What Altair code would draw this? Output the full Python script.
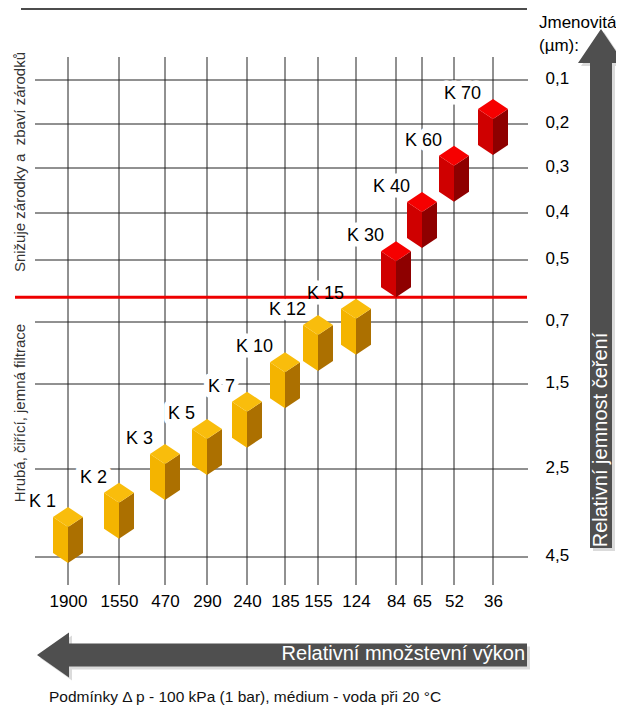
import altair as alt
import pandas as pd

FONT = "Liberation Sans"

# ---- data ----
flow_labels = [1900, 1550, 470, 290, 240, 185, 155, 124, 84, 65, 52, 36]
rating_ticks = [0.1, 0.2, 0.3, 0.4, 0.5, 0.7, 1.5, 2.5, 4.5]
filter_names = ["K 1", "K 2", "K 3", "K 5", "K 7", "K 10", "K 12", "K 15",
                "K 30", "K 40", "K 60", "K 70"]
filter_flow = [1900, 1550, 470, 290, 240, 185, 155, 124, 84, 65, 52, 36]
filter_rating = [4.0, 3.45, 2.57, 2.24, 1.92, 1.45, 0.97, 0.76,
                 0.53, 0.415, 0.313, 0.207]
filter_group = ["filtrace"] * 8 + ["zarodky"] * 4
threshold = [0.62]

# ---- layout (scale ranges of the hand-drawn, uneven grid) ----
W, H = 493, 528
X_RANGE = [33, 84, 130, 172, 212, 250, 283, 321, 361, 387, 419, 458]
Y_RANGE = [23, 67, 111, 156, 203, 265, 327, 412, 500]

df = pd.DataFrame({"name": filter_names, "flow": filter_flow,
                   "rating": filter_rating, "grp": filter_group})

xscale = alt.Scale(domain=flow_labels, range=X_RANGE, nice=False, zero=False)
yscale = alt.Scale(domain=rating_ticks, range=Y_RANGE, nice=False, zero=False)

xaxis = alt.Axis(values=flow_labels, format="d", orient="bottom", domain=False,
                 ticks=False, tickSize=0, labelPadding=8, labelFontSize=17,
                 labelFont=FONT, labelColor="#000", grid=False, labelFlush=False,
                 labelOverlap=False, title=None, labelAngle=0)
yaxis = alt.Axis(values=rating_ticks, orient="right", domain=False, ticks=False,
                 tickSize=0, labelPadding=17, labelAlign="left",
                 labelBaseline="middle", labelOffset=-2, labelFontSize=17,
                 labelFont=FONT, labelColor="#000",
                 labelExpr="replace(format(datum.value, '.1f'), '.', ',')",
                 grid=False, labelFlush=False, labelOverlap=False, title=None)

X = alt.X("flow:Q", scale=xscale, axis=xaxis)
Y = alt.Y("rating:Q", scale=yscale, axis=yaxis)

# grid drawn as rules through the same scales
vgrid = alt.Chart(pd.DataFrame({"flow": flow_labels})).mark_rule(
    color="#222", strokeWidth=1).encode(x=X, y=alt.value(0), y2=alt.value(H))
hgrid = alt.Chart(pd.DataFrame({"rating": rating_ticks})).mark_rule(
    color="#222", strokeWidth=1).encode(y=Y, x=alt.value(0), x2=alt.value(W))

TOP = "M0,-28L15,-18L0,-8L-15,-18Z"
LEFT = "M-15,-18L0,-8L0,28L-15,18Z"
RIGHT = "M0,-8L15,-18L15,18L0,28Z"


def face(path, red, yellow):
    return alt.Chart(df).mark_point(filled=True, shape=path, size=4, opacity=1,
                                    strokeWidth=0).encode(
        x=X, y=Y,
        fill=alt.condition(alt.datum.grp == "zarodky", alt.value(red), alt.value(yellow)),
    )


cube_top = face(TOP, "#f60000", "#f9bd0c")
cube_left = face(LEFT, "#cf0000", "#f4b400")
cube_right = face(RIGHT, "#8e0000", "#ac7000")

label_halo = alt.Chart(df).mark_text(align="right", baseline="middle", dx=-12, dy=-33,
                                     fontSize=18, font=FONT, color="#fff",
                                     stroke="#fff", strokeWidth=11,
                                     strokeJoin="round").encode(
    x=X, y=Y, text="name:N")
labels = alt.Chart(df).mark_text(align="right", baseline="middle", dx=-12, dy=-33,
                                 fontSize=18, font=FONT, color="#000").encode(
    x=X, y=Y, text="name:N")

red_line = alt.Chart(pd.DataFrame({"rating": threshold})).mark_rule(
    color="#ee0000", strokeWidth=3).encode(
    y=Y, x=alt.value(-20), x2=alt.value(492))

one = pd.DataFrame({"a": [0]})

top_line = alt.Chart(one).mark_rule(color="#111", strokeWidth=1.5).encode(
    x=alt.value(-14), x2=alt.value(492), y=alt.value(-48))

ARROW_B = "M0,0L32,-22.5L32,-11.5L490,-11.5L490,11.5L32,11.5L32,22.5Z"
ARROW_R = "M0,0L23,34L11,34L11,519L-11,519L-11,34L-23,34Z"


def arrow(path, x, y, color, op=1.0):
    return alt.Chart(one).mark_point(filled=True, shape=path, size=4, opacity=op,
                                     strokeWidth=0, color=color).encode(
        x=alt.value(x), y=alt.value(y))


arrows = [
    arrow(ARROW_B, 5, 601, "#999", 0.35),
    arrow(ARROW_R, 569, -25, "#999", 0.35),
    arrow(ARROW_B, 2, 598, "#4f4f4f"),
    arrow(ARROW_R, 566, -28, "#4f4f4f"),
]


def txt(text, x, y, size, color="#000", align="left", baseline="middle", angle=0):
    kw = dict(text=text, align=align, baseline=baseline, fontSize=size, font=FONT,
              color=color)
    if angle:
        kw["angle"] = angle
    return alt.Chart(one).mark_text(**kw).encode(x=alt.value(x), y=alt.value(y))


texts = [
    txt("Jmenovitá", 504, -29, 17, baseline="alphabetic"),
    txt("(µm):", 504, -6, 17, baseline="alphabetic"),
    txt("Snižuje zárodky a\u00a0\u00a0zbaví zárodků", -15, 105, 15, color="#333",
        align="center", angle=270),
    txt("Hrubá, čiřící, jemná filtrace", -15, 356, 15, color="#333",
        align="center", angle=270),
    txt("Relativní jemnost čeření", 566, 383, 20, color="#fff", align="center",
        angle=270),
    txt("Relativní množstevní výkon", 490, 597, 20, color="#fff", align="right"),
    txt("Podmínky Δ p - 100 kPa (1 bar), médium - voda při 20 °C", 14, 645, 15.5,
        color="#111", baseline="alphabetic"),
]

chart = alt.layer(
    vgrid, hgrid, label_halo, red_line, cube_left, cube_right, cube_top, labels,
    top_line, *arrows, *texts
).properties(
    width=W, height=H,
    autosize=alt.AutoSizeParams(type="none"),
    padding={"left": 27, "top": 49, "right": 88, "bottom": 122},
).configure_view(stroke=None)

chart.save("out.html", embed_options={"renderer": "svg", "actions": False})
